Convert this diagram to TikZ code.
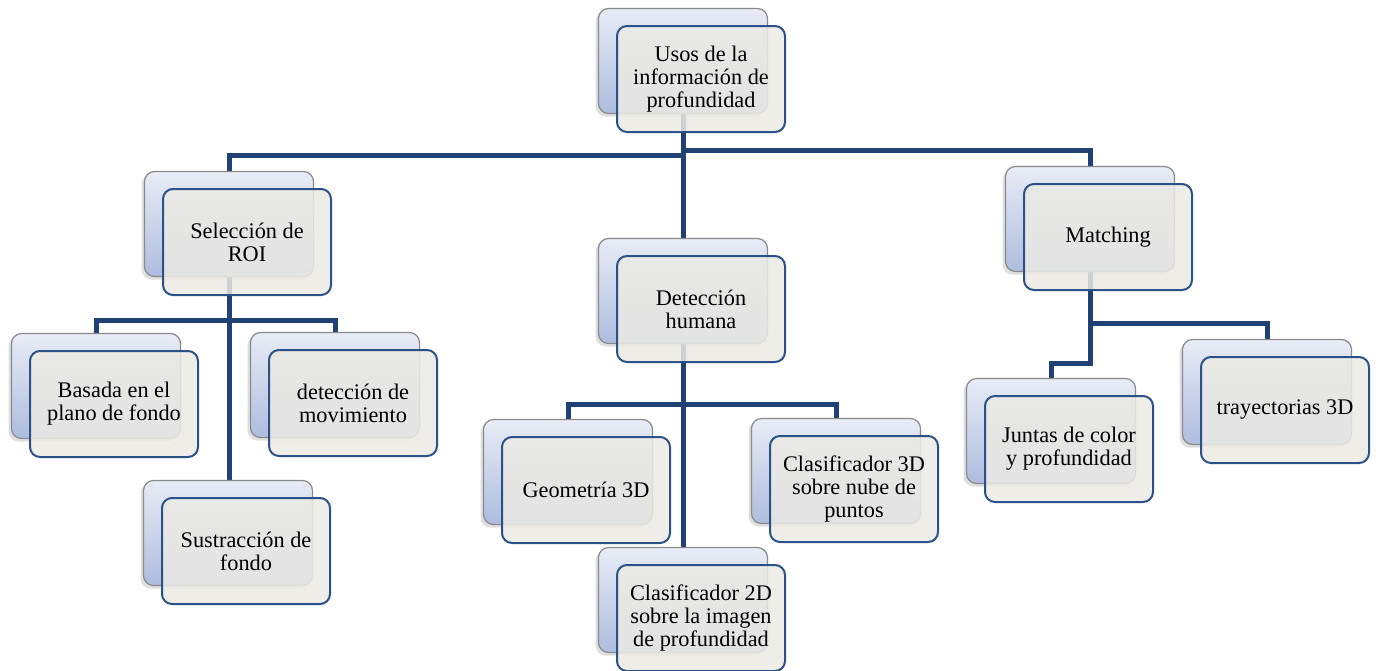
\documentclass[tikz,border=0pt]{standalone}
\usepackage{fontspec}
\setmainfont{Liberation Serif}
\usetikzlibrary{shadows}
\definecolor{linec}{HTML}{1F4173}
\definecolor{frontdraw}{HTML}{2A5288}
\definecolor{frontfill}{HTML}{EBEAE4}
\definecolor{backtop}{HTML}{E8ECF6}
\definecolor{backbot}{HTML}{AEBCDE}
\definecolor{backdraw}{HTML}{8A8A8A}
\pgfdeclarelayer{bg}
\pgfsetlayers{bg,main}
\tikzset{
  backbox/.style={draw=backdraw, line width=1.2pt, rounded corners=10pt,
    minimum width=169pt, minimum height=105pt, inner sep=0pt,
    top color=backtop, bottom color=backbot,
    drop shadow={shadow xshift=-3pt, shadow yshift=-3pt, opacity=0.25}},
  frontbox/.style={draw=frontdraw, line width=2pt, rounded corners=10pt,
    minimum width=168pt, minimum height=106pt, inner sep=0pt,
    fill=frontfill, fill opacity=0.86, text opacity=1, align=center,
    font=\fontsize{22.3}{22.8}\selectfont},
  conn/.style={draw=linec, line width=5pt}
}
\newcommand\pairbox[4]{%
  \node[backbox] (#1B) at (#2-18,#3-18) {};
  \node[frontbox] (#1F) at (#2,#3) {#4};
}
\begin{document}
\begin{tikzpicture}[x=1pt,y=-1pt]
\useasboundingbox (0,0) rectangle (1379,670);
\pairbox{top}{701}{79}{Usos de la\\información de\\profundidad}
\pairbox{sel}{247}{242}{Selección de\\ROI}
\pairbox{bas}{114}{404}{Basada en el\\plano de fondo}
\pairbox{mov}{353}{403}{detección de\\movimiento}
\pairbox{sus}{246}{551}{Sustracción de\\fondo}
\pairbox{det}{701}{309}{Detección\\humana}
\pairbox{geo}{586}{490}{Geometría 3D}
\pairbox{cdd}{854}{489}{Clasificador 3D\\sobre nube de\\puntos}
\pairbox{cdo}{701}{618}{Clasificador 2D\\sobre la imagen\\de profundidad}
\pairbox{mat}{1108}{237}{Matching}
\pairbox{jun}{1069}{449}{Juntas de color\\y profundidad}
\pairbox{tra}{1285}{410}{trayectorias 3D}
\begin{pgfonlayer}{bg}
  \draw[conn] (topB.center) -- (detB.center);
  \draw[conn] (topB.center |- 0,155) -| (selB.center);
  \draw[conn] (topB.center |- 0,150) -| (matB.center);
  \draw[conn] (selB.center) -- (selB.center |- susB.center);
  \draw[conn] (selB.center |- 0,320) -| (basB.center);
  \draw[conn] (selB.center |- 0,320) -| (movB.center);
  \draw[conn] (detB.center) -- (cdoB.center);
  \draw[conn] (detB.center |- 0,404) -| (geoB.center);
  \draw[conn] (detB.center |- 0,404) -| (cddB.center);
  \draw[conn] (matB.center) |- (traB.center |- 0,323) -- (traB.center);
  \draw[conn] (matB.center) |- (junB.center |- 0,363) -- (junB.center);
\end{pgfonlayer}
\end{tikzpicture}
\end{document}
